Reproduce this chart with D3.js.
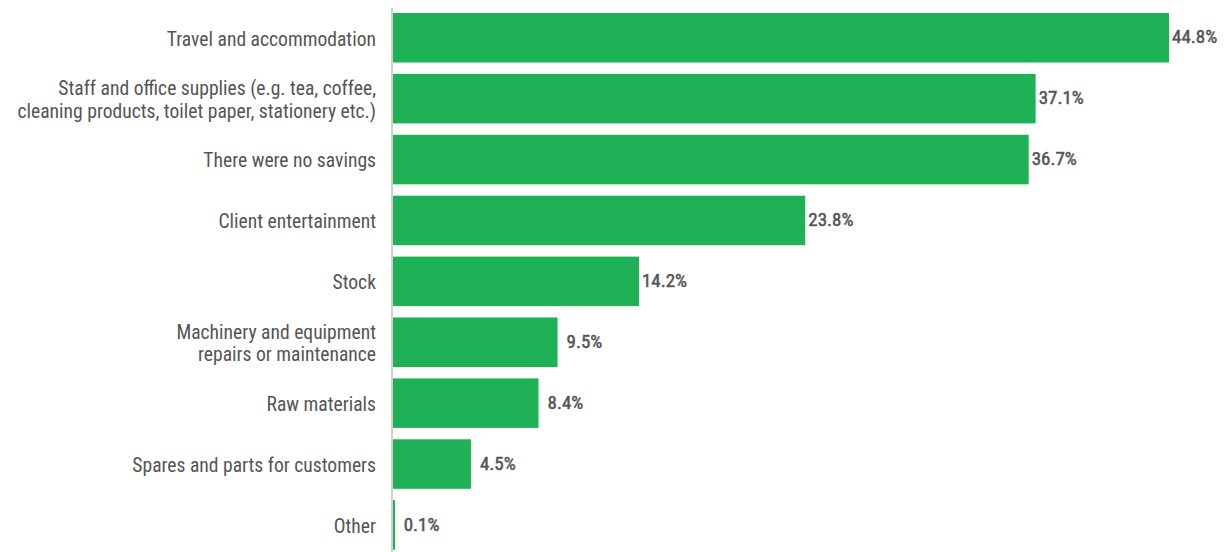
<!DOCTYPE html>
<html><head><meta charset="utf-8">
<script src="https://cdn.jsdelivr.net/npm/d3@7"></script>
<style>
body{margin:0;background:#fff;}
svg text{font-family:"Liberation Sans Narrow","Roboto Condensed","Arial Narrow","Liberation Sans",sans-serif;}
</style></head><body>
<svg id="c" width="1225" height="552"></svg>
<script>
const categories = [
  ["Travel and accommodation"],
  ["Staff and office supplies (e.g. tea, coffee,", "cleaning products, toilet paper, stationery etc.)"],
  ["There were no savings"],
  ["Client entertainment"],
  ["Stock"],
  ["Machinery and equipment", "repairs or maintenance"],
  ["Raw materials"],
  ["Spares and parts for customers"],
  ["Other"]
];
const values = [44.8, 37.1, 36.7, 23.8, 14.2, 9.5, 8.4, 4.5, 0.1];
const valueLabels = ["44.8%", "37.1%", "36.7%", "23.8%", "14.2%", "9.5%", "8.4%", "4.5%", "0.1%"];

const svg = d3.select("#c");
const x0 = 393;
const x = d3.scaleLinear().domain([0, 44.8]).range([x0, 1169]);
const y = d3.scaleBand().domain(d3.range(values.length)).range([13, 549.7]).paddingInner(0.187).paddingOuter(0);

svg.append("line").attr("x1", 392).attr("x2", 392).attr("y1", 8).attr("y2", 552)
  .attr("stroke", "#d0d0d0").attr("stroke-width", 2);

svg.selectAll("rect.bar").data(values).join("rect")
  .attr("class", "bar")
  .attr("x", x0)
  .attr("y", (d, i) => y(i))
  .attr("width", d => Math.max(x(d) - x0, 2))
  .attr("height", y.bandwidth())
  .attr("fill", "#1eb155");

svg.selectAll("text.val").data(values).join("text")
  .attr("class", "val")
  .attr("x", d => x(d) + (d < 10 ? 9 : 3))
  .attr("y", (d, i) => y(i) + y.bandwidth() / 2)
  .attr("dy", "0.3em")
  .attr("fill", "#555")
  .attr("stroke", "#555")
  .attr("stroke-width", 0.5)
  .attr("font-size", 19)
  .text((d, i) => valueLabels[i]);

const lab = svg.selectAll("text.cat").data(categories).join("text")
  .attr("class", "cat")
  .attr("text-anchor", "end")
  .attr("fill", "#555")
  .attr("font-size", 19.6);
lab.each(function(lines, i) {
  const t = d3.select(this);
  const cy = y(i) + y.bandwidth() / 2;
  const lh = 22.6;
  lines.forEach((ln, k) => {
    t.append("tspan").attr("x", 376)
      .attr("y", cy + (k - (lines.length - 1) / 2) * lh)
      .attr("dy", "0.4em").text(ln);
  });
});
</script></body></html>
